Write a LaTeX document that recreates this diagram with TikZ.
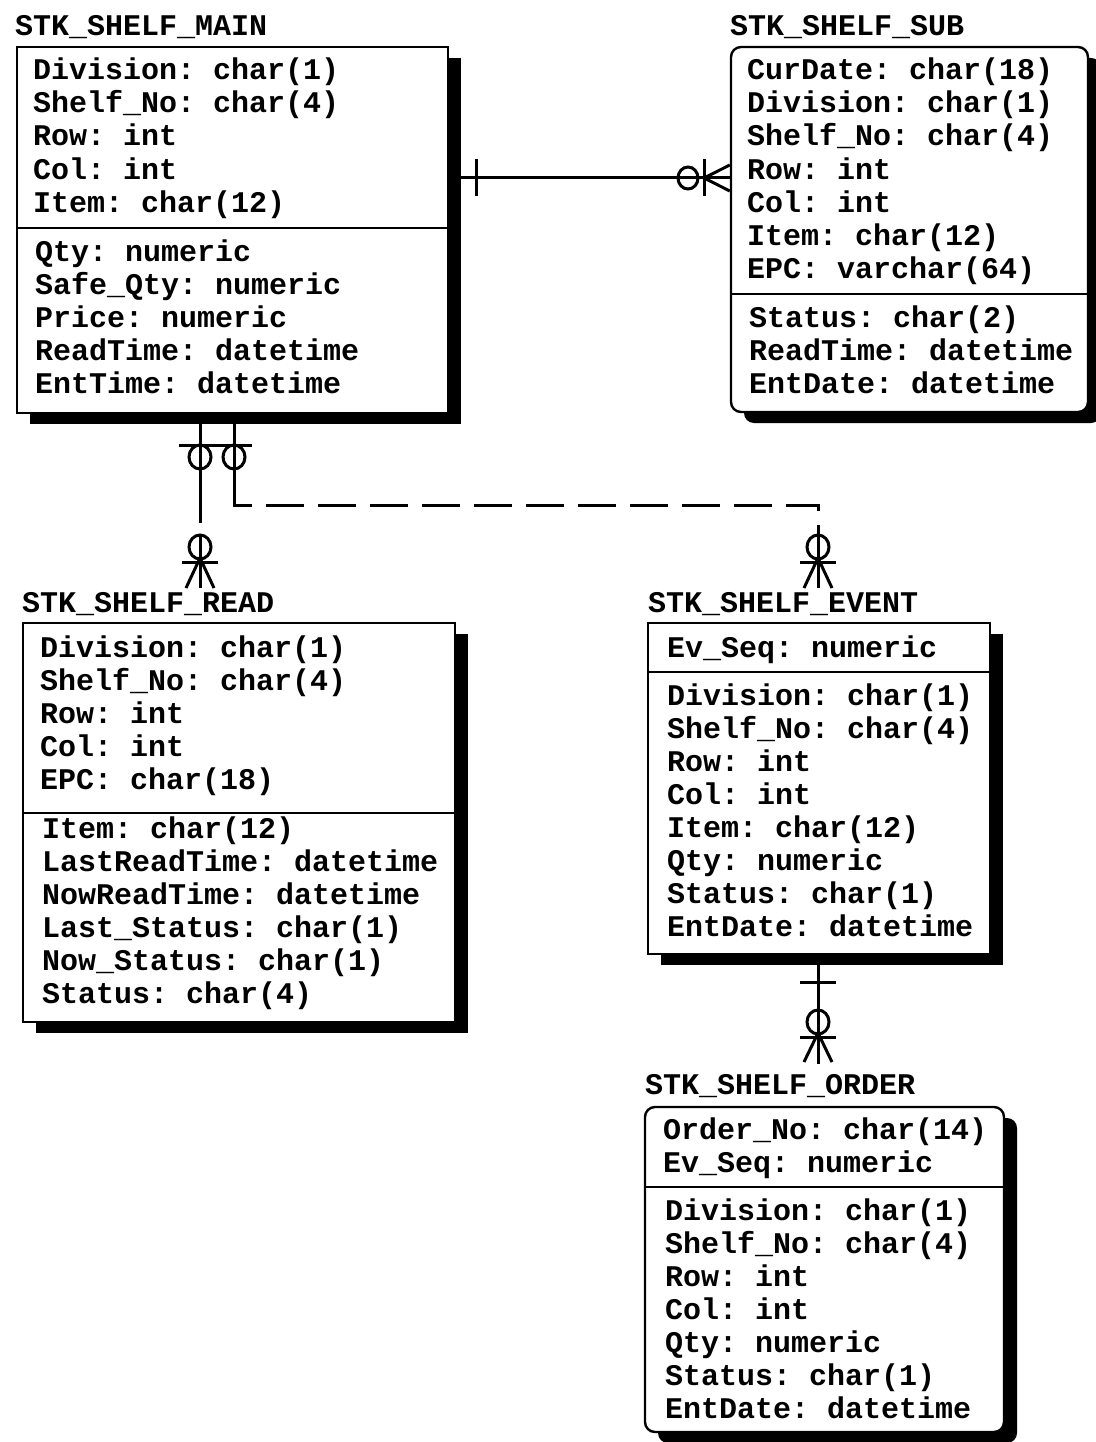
\documentclass[tikz,border=0pt]{standalone}
\usepackage{fontspec}
\setmonofont{Liberation Mono}
\usetikzlibrary{positioning,fit,shadows,calc}

\newcommand{\attrfont}{\fontsize{30}{33}\selectfont\ttfamily\bfseries}

\begin{document}
\begin{tikzpicture}[x=1pt, y=-1pt,
    entbox/.style={draw, line width=2.4pt, fill=white, inner sep=0pt,
      drop shadow={shadow xshift=13pt, shadow yshift=-11pt, fill=black, opacity=1}},
    roundbox/.style={entbox, rounded corners=10pt},
    attr/.style={anchor=base west, inner sep=0pt, font=\attrfont},
    enttitle/.style={anchor=base west, inner sep=0pt, font=\attrfont},
    rel/.style={line width=3pt},
    nonident/.style={rel, dash pattern=on 38pt off 14pt}]
%
    \path[use as bounding box, fill=white] (0,0) rectangle (1095,1442);
%
    % entities
    \node[entbox, fit={(17,47) (448,413)}] (main) {};
    \node[roundbox, fit={(731,47) (1088,412)}] (sub) {};
    \node[entbox, fit={(23,623) (455,1022)}] (read) {};
    \node[entbox, fit={(648,623) (990,954)}] (event) {};
    \node[roundbox, fit={(645,1107) (1004,1432)}] (order) {};
%
    \draw[line width=2.4pt] (17,228) -- (448,228);
    \draw[line width=2.4pt] (731,294) -- (1088,294);
    \draw[line width=2.4pt] (23,813) -- (455,813);
    \draw[line width=2.4pt] (648,672) -- (990,672);
    \draw[line width=2.4pt] (645,1187) -- (1004,1187);
%
    \node[enttitle] (maint)  at (15,36)    {STK\_SHELF\_MAIN};
    \node[enttitle] (subt)   at (730,36)   {STK\_SHELF\_SUB};
    \node[enttitle] (readt)  at (22,612)   {STK\_SHELF\_READ};
    \node[enttitle] (eventt) at (648,612)  {STK\_SHELF\_EVENT};
    \node[enttitle] (ordert) at (645,1094) {STK\_SHELF\_ORDER};
%
    % attributes
    \foreach \t [count=\i from 0] in {Division: char(1), Shelf\_No: char(4),
        Row: int, Col: int, Item: char(12)}
      \node[attr] (mainpk\i) at (33, 80+33*\i) {\t};
    \foreach \t [count=\i from 0] in {Qty: numeric, Safe\_Qty: numeric,
        Price: numeric, ReadTime: datetime, EntTime: datetime}
      \node[attr] (mainat\i) at (35, 261+33*\i) {\t};
%
    \foreach \t [count=\i from 0] in {CurDate: char(18), Division: char(1),
        Shelf\_No: char(4), Row: int, Col: int, Item: char(12), EPC: varchar(64)}
      \node[attr] (subpk\i) at (747, 80+33*\i) {\t};
    \foreach \t [count=\i from 0] in {Status: char(2), ReadTime: datetime,
        EntDate: datetime}
      \node[attr] (subat\i) at (749, 327+33*\i) {\t};
%
    \foreach \t [count=\i from 0] in {Division: char(1), Shelf\_No: char(4),
        Row: int, Col: int, EPC: char(18)}
      \node[attr] (readpk\i) at (40, 657+33*\i) {\t};
    \foreach \t [count=\i from 0] in {Item: char(12), LastReadTime: datetime,
        NowReadTime: datetime, Last\_Status: char(1), Now\_Status: char(1),
        Status: char(4)}
      \node[attr] (readat\i) at (42, 838+33*\i) {\t};
%
    \node[attr] (eventpk0) at (667,657) {Ev\_Seq: numeric};
    \foreach \t [count=\i from 0] in {Division: char(1), Shelf\_No: char(4),
        Row: int, Col: int, Item: char(12), Qty: numeric, Status: char(1),
        EntDate: datetime}
      \node[attr] (eventat\i) at (667, 705+33*\i) {\t};
%
    \foreach \t [count=\i from 0] in {Order\_No: char(14), Ev\_Seq: numeric}
      \node[attr] (orderpk\i) at (663, 1139+33*\i) {\t};
    \foreach \t [count=\i from 0] in {Division: char(1), Shelf\_No: char(4),
        Row: int, Col: int, Qty: numeric, Status: char(1), EntDate: datetime}
      \node[attr] (orderat\i) at (665, 1220+33*\i) {\t};
%
    % main -- sub
    \coordinate (r1) at (0,178);
    \draw[rel] (main.east |- r1) -- (sub.west |- r1);
    \draw[rel] (476,159) -- (476,196);
    \draw[rel] (688,178) ellipse [x radius=10pt, y radius=11pt];
    \draw[rel] (704,159) -- (704,196);
    \draw[rel] ($(sub.west |- r1)+(0,-13)$) -- (704,178) -- ($(sub.west |- r1)+(0,13)$);
%
    % main -- read, main -- event
    \coordinate (ra) at (200,0);
    \coordinate (rb) at (234,0);
    \coordinate (rc) at (818,0);
    \draw[rel] (main.south -| ra) -- (200,485);
    \draw[rel] (main.south -| rb) -- (234,485);
    \draw[nonident] (200,485) -- (200,535);
    \draw[nonident] (234,485) -- (234,505) -- (818,505) -- (818,535);
    \draw[rel] (200,535) -- ($(readt.north -| ra)+(0,-4)$);
    \draw[rel] (818,535) -- ($(eventt.north -| rc)+(0,-4)$);
    \draw[rel] (179,445) -- (252,445);
    \foreach \x in {200,234}
      \draw[rel] (\x,457) ellipse [x radius=11pt, y radius=12pt];
    \foreach \x in {200,818} {
      \draw[rel] (\x,547) ellipse [x radius=11pt, y radius=12pt];
      \draw[rel] (\x-18,562) -- (\x+18,562);
      \draw[rel] (\x-14,588) -- (\x,558) -- (\x+14,588);
    }
%
    % event -- order
    \draw[rel] (event.south -| rc) -- ($(ordert.north -| rc)+(0,-10)$);
    \draw[rel] (800,982) -- (836,982);
    \draw[rel] (818,1022) ellipse [x radius=11pt, y radius=12pt];
    \draw[rel] (800,1037) -- (836,1037);
    \draw[rel] (804,1062) -- (818,1033) -- (832,1062);
  \end{tikzpicture}
\end{document}
